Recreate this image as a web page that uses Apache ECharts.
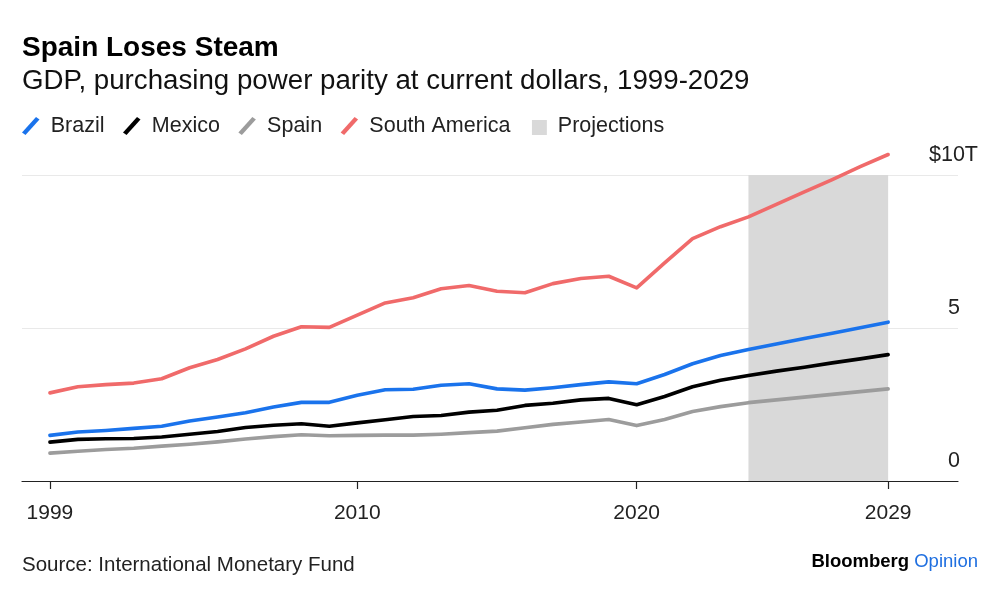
<!DOCTYPE html>
<html>
<head>
<meta charset="utf-8">
<script src="https://cdn.jsdelivr.net/npm/echarts@6/dist/echarts.min.js"></script>
<style>
  html, body { margin: 0; padding: 0; background: #fff; }
  #chart { width: 1000px; height: 596px; }
</style>
</head>
<body>
<div id="chart"></div>
<script>
var years = [1999,2000,2001,2002,2003,2004,2005,2006,2007,2008,2009,2010,2011,2012,2013,2014,2015,2016,2017,2018,2019,2020,2021,2022,2023,2024,2025,2026,2027,2028,2029];
var brazil = [1.49,1.60,1.65,1.72,1.79,1.96,2.09,2.23,2.42,2.57,2.57,2.80,2.98,3.00,3.13,3.18,3.01,2.97,3.05,3.15,3.24,3.18,3.48,3.83,4.10,4.30,4.48,4.66,4.83,5.01,5.19];
var mexico = [1.27,1.36,1.38,1.39,1.44,1.53,1.62,1.75,1.82,1.87,1.79,1.90,2.00,2.11,2.14,2.25,2.31,2.47,2.54,2.65,2.70,2.49,2.76,3.08,3.29,3.45,3.59,3.72,3.86,3.99,4.13];
var spain = [0.91,0.97,1.03,1.07,1.14,1.20,1.28,1.37,1.45,1.51,1.48,1.49,1.50,1.50,1.53,1.58,1.63,1.74,1.85,1.93,2.01,1.81,2.01,2.27,2.43,2.56,2.65,2.74,2.83,2.92,3.01];
var southAmerica = [2.88,3.08,3.15,3.20,3.34,3.70,3.97,4.32,4.73,5.04,5.02,5.42,5.82,5.99,6.28,6.39,6.20,6.15,6.45,6.62,6.69,6.31,7.13,7.92,8.31,8.63,9.04,9.45,9.85,10.27,10.67];
var projectionStart = 2024;
var projectionEnd = 2029;
var xTickYears = [1999, 2010, 2020, 2029];

function pairs(arr) { return years.map(function (y, i) { return [y, arr[i]]; }); }

var FONT = '"Liberation Sans", Arial, sans-serif';
var slash = 'path://M0,15.5 L14,0 L17.5,2.5 L3.5,18 Z';
var square = 'path://M0,0 L0.01,0 L0,0.01 Z M3,3 L17.5,3 L17.5,17.5 L3,17.5 Z';

var chart = echarts.init(document.getElementById('chart'), null, { renderer: 'canvas' });

function lineSeries(name, arr, color) {
  return {
    name: name,
    type: 'line',
    data: pairs(arr),
    symbol: 'none',
    clip: false,
    z: 4,
    itemStyle: { color: color },
    lineStyle: { color: color, width: 3.6, cap: 'round', join: 'round' },
    emphasis: { disabled: true }
  };
}

chart.setOption({
  animation: false,
  backgroundColor: '#ffffff',
  title: [
    { text: 'Spain Loses Steam', left: 22, top: 34, padding: 0,
      textStyle: { fontFamily: FONT, fontSize: 28, fontWeight: 'bold', color: '#000' } },
    { text: 'GDP, purchasing power parity at current dollars, 1999-2029', left: 22, top: 67, padding: 0,
      textStyle: { fontFamily: FONT, fontSize: 27.7, fontWeight: 'normal', color: '#111' } },
    { text: 'Source: International Monetary Fund', left: 22, top: 555, padding: 0,
      textStyle: { fontFamily: FONT, fontSize: 20.5, fontWeight: 'normal', color: '#222' } },
    { text: '{b|Bloomberg} {o|Opinion}', right: 22, top: 552, padding: 0,
      textStyle: { fontFamily: FONT, fontSize: 18.5,
        rich: {
          b: { fontFamily: FONT, fontSize: 18.5, fontWeight: 'bold', color: '#000' },
          o: { fontFamily: FONT, fontSize: 18.5, fontWeight: 'normal', color: '#1f6fe0' }
        } } }
  ],
  legend: {
    left: 22,
    top: 115,
    padding: 0,
    itemWidth: 18,
    itemHeight: 18,
    itemGap: 18.5,
    icon: slash,
    selectedMode: false,
    textStyle: { fontFamily: FONT, fontSize: 21.5, color: '#222', padding: [0, 0, 0, 6] },
    data: [
      { name: 'Brazil' },
      { name: 'Mexico' },
      { name: 'Spain' },
      { name: 'South America' },
      { name: 'Projections', icon: square, itemStyle: { color: '#d9d9d9' } }
    ]
  },
  grid: { left: 22, right: 42, top: 175, bottom: 115, containLabel: false },
  xAxis: {
    type: 'value',
    min: 1998,
    max: 2031.5,
    z: 5,
    axisLine: { show: true, lineStyle: { color: '#222', width: 1.2 } },
    axisTick: { show: true, length: 8, customValues: xTickYears, lineStyle: { color: '#222', width: 1.2 } },
    axisLabel: { customValues: xTickYears, margin: 22, fontFamily: FONT, fontSize: 21, color: '#222',
      formatter: function (v) { return String(v); } },
    splitLine: { show: false }
  },
  yAxis: {
    type: 'value',
    position: 'right',
    min: 0,
    max: 10,
    interval: 5,
    axisLine: { show: false },
    axisTick: { show: false },
    splitLine: { show: true, lineStyle: { color: '#e9e9e9', width: 1.2 } },
    axisLabel: {
      align: 'right',
      margin: 20,
      verticalAlign: 'bottom',
      formatter: function (v) {
        return v === 10 ? '{a|$10T}' : '{a|' + v + '}{h| }';
      },
      rich: {
        a: { fontFamily: FONT, fontSize: 21.5, color: '#222', lineHeight: 40 },
        h: { fontFamily: FONT, fontSize: 21.5, color: 'rgba(0,0,0,0)', width: 18, lineHeight: 40 }
      }
    }
  },
  series: [
    {
      name: 'Projections',
      type: 'line',
      data: [],
      z: 1,
      itemStyle: { color: '#d9d9d9' },
      markArea: {
        silent: true,
        itemStyle: { color: '#d9d9d9' },
        data: [[{ xAxis: projectionStart, yAxis: 0 }, { xAxis: projectionEnd, yAxis: 10 }]]
      }
    },
    lineSeries('Spain', spain, '#9c9c9c'),
    lineSeries('Mexico', mexico, '#000000'),
    lineSeries('Brazil', brazil, '#1a73ec'),
    lineSeries('South America', southAmerica, '#f06a6a')
  ]
});
</script>
</body>
</html>
